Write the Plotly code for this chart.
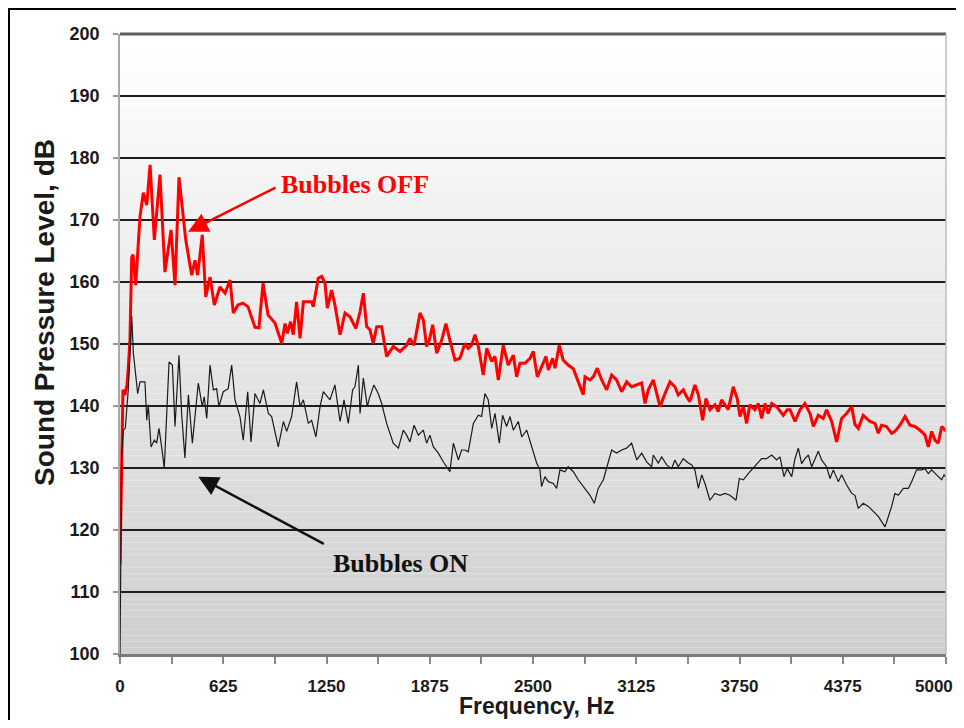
import plotly.graph_objects as go

# ---------------- data ----------------
off_freq = [0, 10, 18, 30, 42, 50, 60, 71, 79, 95, 121, 141, 162, 182, 208, 242, 272, 309, 333, 357,
            398, 434, 454, 470, 498, 519, 545, 571, 605, 636, 666, 686, 714, 745, 775, 817, 841, 866, 896, 938,
            979, 999, 1013, 1033, 1049, 1069, 1090, 1110, 1160, 1170, 1200, 1221, 1241, 1255, 1281, 1301, 1332, 1362, 1392, 1428,
            1453, 1473, 1493, 1513, 1533, 1554, 1584, 1614, 1654, 1695, 1735, 1755, 1780, 1816, 1836, 1856, 1872, 1893, 1917, 1947,
            1973, 1997, 2028, 2058, 2088, 2108, 2128, 2149, 2169, 2199, 2220, 2250, 2270, 2290, 2320, 2350, 2381, 2401, 2421, 2451,
            2482, 2502, 2526, 2552, 2579, 2593, 2619, 2633, 2659, 2683, 2713, 2744, 2774, 2804, 2815, 2845, 2865, 2889, 2916, 2946,
            2976, 3006, 3037, 3067, 3097, 3128, 3158, 3178, 3198, 3228, 3269, 3299, 3329, 3359, 3379, 3410, 3430, 3450, 3480, 3501,
            3527, 3547, 3571, 3601, 3621, 3642, 3662, 3682, 3712, 3736, 3753, 3773, 3793, 3813, 3843, 3864, 3884, 3904, 3924, 3945,
            3975, 4015, 4039, 4056, 4086, 4116, 4146, 4177, 4197, 4227, 4257, 4277, 4308, 4338, 4368, 4398, 4429, 4449, 4469, 4499,
            4540, 4570, 4590, 4610, 4640, 4671, 4691, 4721, 4752, 4782, 4812, 4843, 4873, 4893, 4913, 4933, 4953, 4974, 4994, 5000]
off_db = [114.4, 128, 142.6, 141.8, 143.4, 146, 150.6, 164, 164.4, 159.5, 170.5, 174.4, 172.4, 178.9, 166.8, 177.3, 161.6, 168.4, 159.5, 176.9,
          166.8, 161.1, 163.5, 161.1, 167.6, 157.6, 160.8, 156.3, 159.2, 158.2, 160.3, 155, 156.3, 156.6, 156, 152.7, 152.6, 159.8, 154.7, 153.4,
          150.1, 153.3, 151.7, 153.6, 151.5, 156.8, 150.9, 156.8, 156.8, 156, 160.6, 160.9, 159.8, 155.8, 158.7, 156.3, 151.5, 155, 154.4, 152.5,
          155.2, 158.2, 152.8, 152.3, 150.1, 152.8, 152.8, 148, 149.6, 148.8, 149.8, 150.9, 149.8, 155, 153.9, 149.6, 150.6, 153.1, 148.5, 150.6,
          153.3, 150.6, 147.4, 147.7, 150.1, 149.3, 149.8, 151.5, 149.6, 145, 149.3, 147.2, 148, 144.2, 149.8, 146.6, 148.2, 144.7, 146.9, 146.9,
          147.7, 148.8, 144.7, 146.3, 148, 145.8, 147.7, 146.1, 149.8, 147.4, 146.6, 146, 143.9, 141.8, 144.7, 144.2, 144.7, 146.1, 144.2, 142.6,
          145, 144.2, 142.3, 143.9, 143.1, 143.4, 143.7, 140.4, 142.6, 144.2, 139.9, 142, 143.9, 143.1, 141.8, 142.6, 141.5, 140.7, 143.4, 141.8,
          137.7, 141.2, 139.4, 140.2, 139.1, 141, 140.2, 139.4, 143.1, 141.2, 138.3, 139.9, 137.2, 140.2, 139.4, 140.4, 138, 140.4, 138.8, 140.4,
          139.9, 138.5, 139.4, 139.4, 137.5, 139.4, 140.4, 138.8, 136.7, 138.5, 138, 139.4, 137.5, 134.2, 138, 138.8, 139.9, 137, 136.4, 138.5,
          137.5, 137.2, 135.6, 136.9, 136.7, 135.6, 135.9, 136.9, 138.3, 136.9, 136.7, 136.1, 135.3, 133.4, 135.9, 134.5, 134, 136.7, 136.1, 136.5]

on_freq = [0, 4, 10, 20, 32, 50, 71, 81, 107, 121, 151, 162, 171, 188, 208, 222, 236, 252, 268, 297,
           317, 333, 357, 373, 393, 414, 438, 474, 498, 510, 525, 545, 565, 585, 599, 625, 655, 676, 696, 726,
           746, 773, 793, 817, 847, 868, 898, 918, 958, 989, 1009, 1039, 1069, 1090, 1110, 1140, 1160, 1186, 1211, 1231,
           1255, 1271, 1301, 1332, 1356, 1382, 1408, 1422, 1443, 1453, 1473, 1497, 1509, 1537, 1563, 1584, 1614, 1654, 1685, 1715,
           1735, 1755, 1780, 1806, 1836, 1856, 1876, 1897, 1927, 1957, 1997, 2018, 2048, 2068, 2088, 2108, 2139, 2169, 2189, 2209,
           2229, 2250, 2270, 2296, 2316, 2340, 2361, 2381, 2411, 2432, 2462, 2492, 2522, 2542, 2552, 2572, 2593, 2623, 2643, 2663,
           2693, 2713, 2744, 2774, 2815, 2845, 2871, 2895, 2926, 2946, 2976, 3006, 3037, 3067, 3097, 3128, 3158, 3188, 3218, 3228,
           3258, 3279, 3309, 3339, 3359, 3379, 3410, 3440, 3461, 3480, 3501, 3521, 3541, 3571, 3601, 3632, 3662, 3692, 3729, 3749,
           3773, 3803, 3824, 3854, 3884, 3914, 3945, 3975, 3995, 4019, 4039, 4066, 4086, 4106, 4126, 4146, 4167, 4187, 4207, 4227,
           4247, 4277, 4298, 4318, 4348, 4368, 4398, 4429, 4449, 4469, 4499, 4530, 4560, 4590, 4631, 4651, 4671, 4691, 4711, 4742,
           4772, 4792, 4822, 4853, 4873, 4893, 4913, 4943, 4974, 4988, 5000]
on_db = [100, 118, 132, 136.1, 136.4, 142.6, 154.5, 148.5, 142, 143.9, 143.9, 137.7, 140.2, 133.4, 134.5, 134, 136.4, 133.4, 130, 147.1,
         146.6, 136.7, 148.2, 138.8, 131.6, 141.8, 134, 143.7, 139.9, 141.5, 138, 146.6, 142.6, 142.8, 139.9, 142.3, 142.8, 146.6, 141, 138.3,
         134.5, 142.3, 134.2, 142, 140.4, 142.6, 138.8, 138.3, 133.4, 137.5, 135.9, 138.3, 143.9, 139.9, 141, 137.2, 137.7, 135, 139.9, 142.3,
         141.5, 141, 143.4, 137.5, 141, 137.2, 142.6, 143.1, 146.6, 138.8, 144.5, 139.9, 141.2, 143.4, 142, 140.4, 137.2, 134, 133.2, 136.1,
         135.3, 134.2, 136.9, 135.3, 136.1, 134, 135.3, 133.4, 132.4, 131, 129.4, 134, 131.3, 132.9, 132.9, 132.6, 137.2, 138.5, 138.3, 142,
         141, 136.4, 138.8, 134, 138.5, 136.7, 138.3, 136.1, 137.5, 135, 136.1, 133.4, 130.8, 129.7, 127, 128.6, 127.8, 127.5, 126.7, 129.7,
         129.4, 130.2, 129.4, 128.1, 126.7, 125.6, 124.3, 126.7, 128.1, 129.9, 132.9, 132.4, 132.9, 133.2, 134, 131.3, 132.4, 131, 130.2, 132.1,
         130.8, 131.8, 130.5, 129.9, 131.3, 130.2, 131.5, 130.8, 130.5, 129.7, 126.7, 128.9, 127.5, 124.8, 125.9, 125.6, 125.9, 125.6, 124.8, 128.3,
         128.1, 129.1, 129.7, 130.5, 131.5, 131.5, 132.1, 131.3, 131.8, 128.6, 129.9, 128.6, 131.5, 133.2, 130.7, 131.5, 132.1, 130.2, 131.5, 132.7,
         131.3, 130.2, 128.3, 129.7, 127.8, 128.9, 127.3, 125.9, 125.6, 123.5, 124.3, 123.8, 123, 122.2, 120.5, 122.2, 123.8, 125.9, 125.6, 126.7,
         126.7, 127.8, 129.7, 129.7, 129.9, 129.1, 129.7, 128.9, 128.1, 128.9, 128.5]

x_tick_vals = [0, 625, 1250, 1875, 2500, 3125, 3750, 4375, 5000]
x_tick_text = ["0", "625", "1250", "1875", "2500", "3125", "3750", "4375", "5000"]
y_tick_vals = [100, 110, 120, 130, 140, 150, 160, 170, 180, 190, 200]

# ---------------- figure ----------------
# The page body has an 8px margin, so the figure is drawn smaller and offset by it
# (kept inside the window so that no scrollbar appears).
W, H = 956, 712
ML, MR, MT, MB = 112, 18, 26, 66
PW, PH = W - ML - MR, H - MT - MB
TICKFONT_X = dict(size=17, family="Liberation Sans, Arial", weight="bold", color="#1a1a1a")

# the last label sits at the window edge; it is drawn separately, nudged inward
axis_tick_text = x_tick_text[:-1] + [""]

fig = go.Figure()

fig.add_trace(go.Scatter(x=off_freq, y=off_db, mode="lines", name="Bubbles OFF",
                         line=dict(color="#ff0000", width=3), showlegend=False))
fig.add_trace(go.Scatter(x=on_freq, y=on_db, mode="lines", name="Bubbles ON",
                         line=dict(color="#1a1a1a", width=1.2), showlegend=False))

shapes = []
# vertical gradient background (white at top, grey at bottom)
n_bands = 100
for i in range(n_bands):
    t = i / (n_bands - 1)
    v = int(round(207 + (255 - 207) * t))
    shapes.append(dict(type="rect", xref="paper", yref="y", x0=0, x1=1,
                       y0=100 + i * 1.0, y1=100 + (i + 1) * 1.0,
                       fillcolor=f"rgb({v},{v},{v})", line=dict(width=0), layer="below"))
# plot-area frame
shapes.append(dict(type="line", xref="paper", yref="paper", x0=0, x1=1, y0=1, y1=1,
                   line=dict(color="#5a5a5a", width=3), layer="above"))
shapes.append(dict(type="line", xref="paper", yref="paper", x0=1, x1=1, y0=0, y1=1,
                   line=dict(color="#bdbdbd", width=1.5), layer="above"))
# outer black frame around the whole picture
shapes.append(dict(type="rect", xref="paper", yref="paper",
                   x0=(1 - ML) / PW, x1=(953 - ML) / PW,
                   y0=-(MB + 40) / PH, y1=1 + (MT - 1) / PH,
                   line=dict(color="black", width=2), fillcolor="rgba(0,0,0,0)", layer="above"))

fig.update_layout(
    width=W, height=H,
    margin=dict(l=ML, r=MR, t=MT, b=MB, autoexpand=False),
    paper_bgcolor="white",
    plot_bgcolor="white",
    shapes=shapes,
    font=dict(family="Liberation Sans, Arial, sans-serif", color="#1a1a1a"),
)

fig.update_xaxes(
    range=[0, 5000], automargin=False,
    tickmode="array", tickvals=x_tick_vals, ticktext=axis_tick_text,
    ticks="outside", ticklen=7, tickwidth=1.5, tickcolor="#888888",
    minor=dict(dtick=312.5, tick0=0, ticks="outside", ticklen=7, tickwidth=1.5, tickcolor="#888888"),
    tickfont=TICKFONT_X,
    ticklabelstandoff=8,
    showgrid=False, zeroline=False,
    showline=True, linecolor="#7a7a7a", linewidth=2.5,
)
fig.update_yaxes(
    range=[100, 200], automargin=False,
    tickmode="array", tickvals=y_tick_vals,
    ticks="outside", ticklen=5, tickwidth=1.5, tickcolor="#999999",
    tickfont=dict(size=18, family="Liberation Sans, Arial", weight="bold", color="#1a1a1a"),
    ticklabelstandoff=10,
    showgrid=True, gridcolor="#1e1e1e", gridwidth=1.6,
    zeroline=False,
    showline=True, linecolor="#a8a8a8", linewidth=1.5,
)

# last x tick label, at the 5000 Hz position of the axis
fig.add_annotation(x=x_tick_vals[-1], y=-(678 - MT - PH) / PH, xref="x", yref="paper",
                   text=x_tick_text[-1], showarrow=False, xanchor="center", yanchor="middle",
                   xshift=-12, font=TICKFONT_X)

# axis titles as annotations (exact placement)
fig.add_annotation(x=(36 - ML) / PW, y=1 - (305 - MT) / PH, xref="paper", yref="paper",
                   text="<b>Sound Pressure Level, dB</b>", textangle=-90, showarrow=False,
                   xanchor="center", yanchor="middle",
                   font=dict(family="Liberation Sans, Arial", size=28, color="#1a1a1a"))
fig.add_annotation(x=(529 - ML) / PW, y=-(H - MT - PH) / PH, xref="paper", yref="paper",
                   text="<b>Frequency, Hz</b>", showarrow=False,
                   xanchor="center", yanchor="bottom", borderpad=0,
                   font=dict(family="Liberation Sans, Arial", size=23, color="#1a1a1a"))

# annotations with arrows
fig.add_annotation(x=412, y=168.1, xref="x", yref="y", text="", showarrow=True,
                   axref="pixel", ayref="pixel", ax=89, ay=-45,
                   arrowhead=2, arrowsize=1.6, arrowwidth=2.5, arrowcolor="#ff0000")
fig.add_annotation(x=0.285, y=0.758, xref="paper", yref="paper", text="<b>Bubbles OFF</b>",
                   showarrow=False, xanchor="center", yanchor="middle",
                   font=dict(family="Liberation Serif, Times New Roman, serif", size=26, color="#ff0000"))
fig.add_annotation(x=474, y=128.6, xref="x", yref="y", text="", showarrow=True,
                   axref="pixel", ayref="pixel", ax=127, ay=68,
                   arrowhead=2, arrowsize=1.6, arrowwidth=2.5, arrowcolor="#111111")
fig.add_annotation(x=0.340, y=0.146, xref="paper", yref="paper", text="<b>Bubbles ON</b>",
                   showarrow=False, xanchor="center", yanchor="middle",
                   font=dict(family="Liberation Serif, Times New Roman, serif", size=26, color="#111111"))

fig.write_html("out.html")
